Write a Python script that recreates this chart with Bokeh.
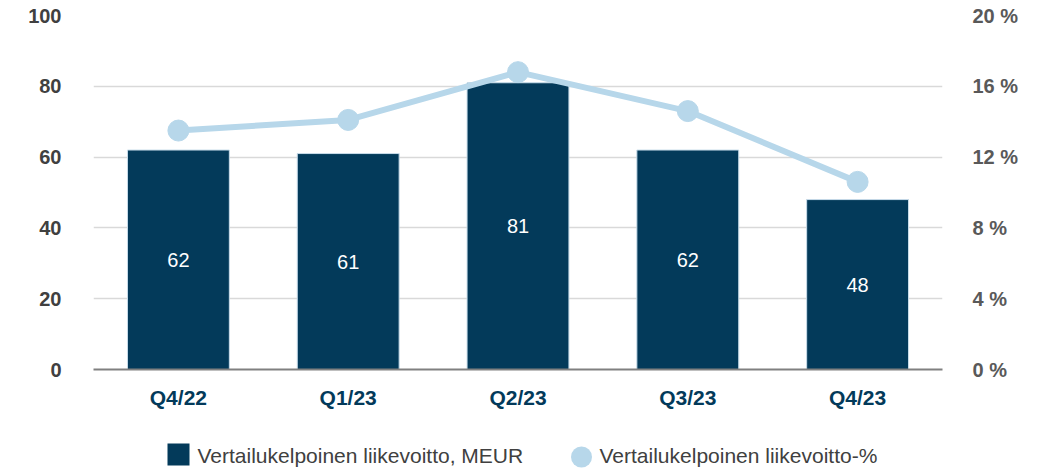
from bokeh.plotting import figure
from bokeh.layouts import column
from bokeh.models import (ColumnDataSource, Range1d, LinearAxis, FixedTicker,
                          CustomJSTickFormatter)
from bokeh.core.properties import value
from bokeh.embed import file_html
from bokeh.resources import INLINE

# ---- data ----
quarters = ["Q4/22", "Q1/23", "Q2/23", "Q3/23", "Q4/23"]
profit_meur = [62, 61, 81, 62, 48]
profit_pct = [13.5, 14.1, 16.8, 14.6, 10.6]
left_ticks = [0, 20, 40, 60, 80, 100]
right_ticks = [0, 4, 8, 12, 16, 20]
bar_label = "Vertailukelpoinen liikevoitto, MEUR"
line_label = "Vertailukelpoinen liikevoitto-%"

BAR = "#033A5A"
LINE = "#B7D7EA"
GREY = "#404040"
GREY2 = "#595959"
FONT = "Liberation Sans"

src = ColumnDataSource(dict(
    q=quarters,
    v=profit_meur,
    mid=[x / 2 for x in profit_meur],
    txt=[str(x) for x in profit_meur],
    pct=profit_pct,
))

p = figure(width=1040, height=420, x_range=quarters, y_range=Range1d(0, 100),
           output_backend="svg", toolbar_location=None,
           min_border_left=93, min_border_right=98, min_border_top=15, min_border_bottom=51)
p.outline_line_color = None
p.background_fill_color = "white"
p.border_fill_color = "white"

p.extra_y_ranges = {"pct": Range1d(0, 20)}

bars = p.vbar(x="q", top="v", width=0.6, source=src, fill_color=BAR,
              line_color="#C9DDEB", line_width=1)
p.text(x="q", y="mid", text="txt", source=src, text_color="white",
       text_font=value(FONT), text_font_size="20px", text_align="center",
       text_baseline="middle")

ln = p.line(x="q", y="pct", source=src, y_range_name="pct", line_color=LINE, line_width=6)
dots = p.scatter(x="q", y="pct", source=src, y_range_name="pct", size=21,
                 fill_color=LINE, line_color=LINE)

# axes
yl = p.yaxis[0]
yl.ticker = FixedTicker(ticks=left_ticks)
yl.axis_line_color = None
yl.major_tick_line_color = None
yl.minor_tick_line_color = None
yl.major_label_standoff = 26
yl.major_label_text_font = FONT
yl.major_label_text_font_style = "bold"
yl.major_label_text_font_size = "20px"
yl.major_label_text_color = GREY

yr = LinearAxis(y_range_name="pct", ticker=FixedTicker(ticks=right_ticks))
yr.formatter = CustomJSTickFormatter(code="return tick + ' %';")
yr.axis_line_color = None
yr.major_tick_line_color = None
yr.minor_tick_line_color = None
yr.major_label_standoff = 24
yr.major_label_text_font = FONT
yr.major_label_text_font_style = "bold"
yr.major_label_text_font_size = "20px"
yr.major_label_text_color = GREY2
p.add_layout(yr, "right")

xa = p.xaxis[0]
xa.axis_line_color = "#808080"
xa.axis_line_width = 2
xa.major_tick_line_color = None
xa.minor_tick_line_color = None
xa.major_label_standoff = 10
xa.major_label_text_font = FONT
xa.major_label_text_font_style = "bold"
xa.major_label_text_font_size = "21px"
xa.major_label_text_color = BAR

p.xgrid.grid_line_color = None
p.ygrid.grid_line_color = "#D9D9D9"
p.ygrid.grid_line_width = 1.5
p.ygrid.ticker = FixedTicker(ticks=left_ticks[1:])

# ---- legend strip (separate figure; its frame is aligned with the main frame,
#      so its x range is given in page pixels of that frame: 93..942) ----
lf = figure(width=1040, height=48, x_range=Range1d(93, 942), y_range=Range1d(48, 0),
            output_backend="svg", toolbar_location=None,
            x_axis_location=None, y_axis_location=None,
            min_border_left=93, min_border_right=98, min_border_top=0, min_border_bottom=0)
lf.outline_line_color = None
lf.grid.grid_line_color = None
lf.background_fill_color = "white"
lf.border_fill_color = "white"

leg = ColumnDataSource(dict(
    gx=[178, 581], gy=[34, 36.5], tx=[197, 599], ty=[35, 35],
    label=[bar_label, line_label], marker=["square", "circle"],
    size=[22, 21], color=[BAR, LINE],
))
lf.scatter(x="gx", y="gy", marker="marker", size="size", fill_color="color",
           line_color="color", line_width=0, source=leg)
lf.text(x="tx", y="ty", text="label", source=leg, text_color=GREY,
        text_font=value(FONT), text_font_size="21px", text_align="left",
        text_baseline="middle")

layout = column(p, lf, spacing=0)
open("out.html", "w").write(file_html(layout, INLINE))
